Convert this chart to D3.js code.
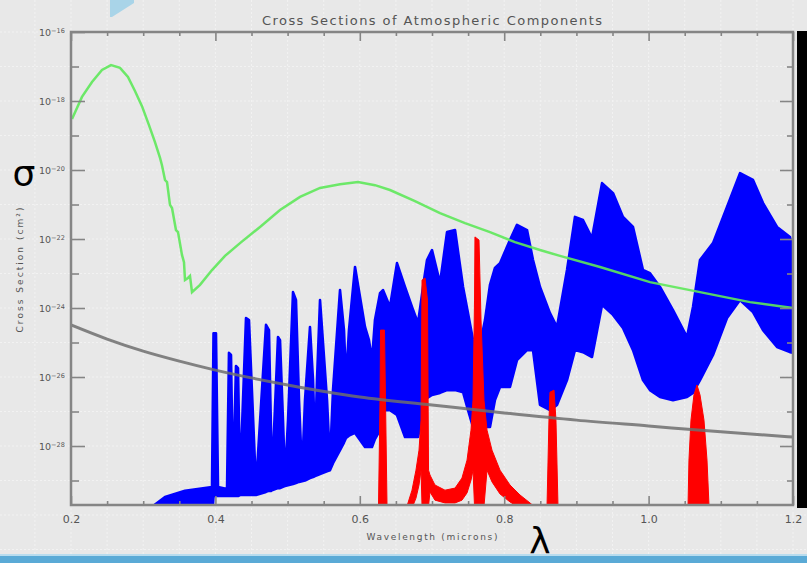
<!DOCTYPE html>
<html>
<head>
<meta charset="utf-8">
<script src="https://cdn.jsdelivr.net/npm/d3@7"></script>
<style>
  html, body { margin: 0; padding: 0; background: #e8e8e8; }
  svg { display: block; }
</style>
</head>
<body>
<div id="chart"></div>
<script>
// Tick labels
const waveMajor = [0.2, 0.4, 0.6, 0.8, 1.0, 1.2];
const waveMinor = [0.25, 0.3, 0.35, 0.45, 0.5, 0.55, 0.65, 0.7, 0.75, 0.85, 0.9, 0.95, 1.05, 1.1, 1.15];
const logMajor = [-16, -18, -20, -22, -24, -26, -28];
const logMinor = [-17, -19, -21, -23, -25, -27, -29];

// Ozone (green): wavelength (microns), log10 cross section (cm^2)
const o3Wave = [0.2014, 0.2152, 0.2291, 0.2429, 0.2554, 0.2679, 0.2789, 0.2886, 0.2983, 0.3080, 0.3163, 0.3233,
  0.3260, 0.3302, 0.3330, 0.3371, 0.3399, 0.3454, 0.3482, 0.3537, 0.3565, 0.3579, 0.3620, 0.3648, 0.3676,
  0.3787, 0.3953, 0.4133, 0.4341, 0.4618, 0.4895, 0.5172, 0.5449, 0.5726, 0.5975, 0.6210, 0.6418, 0.6764,
  0.7111, 0.7457, 0.7803, 0.8149, 0.8496, 0.8773, 0.9327, 1.0019, 1.0712, 1.1404, 1.2000];
const o3Log = [-18.52, -17.88, -17.45, -17.10, -16.96, -17.04, -17.30, -17.71, -18.15, -18.70, -19.19, -19.65,
  -19.86, -20.29, -20.35, -21.01, -21.10, -21.74, -21.80, -22.46, -22.67, -23.19, -23.13, -23.07, -23.54,
  -23.33, -22.90, -22.49, -22.12, -21.65, -21.16, -20.78, -20.52, -20.41, -20.35, -20.44, -20.58, -20.90,
  -21.25, -21.54, -21.80, -22.09, -22.32, -22.49, -22.81, -23.25, -23.54, -23.83, -24.00];

// Rayleigh scattering (gray)
const rayWave = [0.2, 0.25, 0.3, 0.35, 0.4, 0.5, 0.6, 0.7, 0.8, 0.9, 1.0, 1.1, 1.2];
const rayLog = [-24.49, -24.90, -25.25, -25.54, -25.80, -26.23, -26.58, -26.81, -27.04, -27.25, -27.42, -27.59, -27.74];

// Water vapour (blue): wavelength, upper envelope, lower envelope (log10 cm^2)
const h2oWave = [0.3136, 0.3302, 0.3579, 0.3953, 0.3974, 0.4008, 0.4036, 0.4161, 0.4188, 0.4216, 0.4244, 0.4285,
  0.4313, 0.4341, 0.4424, 0.4465, 0.4562, 0.4701, 0.4742, 0.4770, 0.4784, 0.4812, 0.4867, 0.4895, 0.4936,
  0.4964, 0.5006, 0.5075, 0.5116, 0.5158, 0.5200, 0.5241, 0.5310, 0.5352, 0.5380, 0.5407, 0.5449, 0.5546,
  0.5587, 0.5629, 0.5726, 0.5781, 0.5809, 0.5850, 0.5934, 0.6072, 0.6127, 0.6169, 0.6210, 0.6280, 0.6321,
  0.6418, 0.6515, 0.6626, 0.6723, 0.6806, 0.6889, 0.6931, 0.7000, 0.7111, 0.7208, 0.7319, 0.7430, 0.7499,
  0.7568, 0.7637, 0.7734, 0.7803, 0.7872, 0.7942, 0.8080, 0.8177, 0.8316, 0.8399, 0.8496, 0.8634, 0.8731,
  0.8870, 0.8980, 0.9091, 0.9216, 0.9355, 0.9507, 0.9645, 0.9784, 0.9922, 1.0019, 1.0158, 1.0338, 1.0532,
  1.0615, 1.0712, 1.0892, 1.1086, 1.1266, 1.1446, 1.1585, 1.1779, 1.1958, 1.2000];
const h2oUpper = [-29.74, -29.48, -29.30, -29.19, -24.73, -24.73, -29.19, -29.25, -25.30, -25.36, -29.22, -25.68,
  -25.74, -29.04, -24.29, -24.35, -29.19, -24.49, -24.64, -27.54, -28.99, -27.54, -24.84, -24.93, -27.25,
  -28.93, -27.25, -23.54, -23.77, -26.67, -28.78, -26.67, -24.55, -26.09, -28.03, -26.09, -23.77, -26.67,
  -28.46, -26.38, -23.48, -24.64, -26.09, -24.64, -22.81, -24.55, -24.93, -25.51, -24.35, -23.57, -23.48,
  -23.97, -22.70, -23.39, -23.97, -24.44, -23.19, -22.61, -22.32, -23.28, -21.80, -21.74, -23.39, -24.15,
  -24.93, -25.36, -24.35, -23.33, -22.84, -22.70, -22.03, -21.59, -21.74, -22.61, -23.39, -24.15, -24.55,
  -22.90, -21.36, -21.45, -21.97, -20.38, -20.67, -21.36, -21.65, -22.90, -22.99, -23.39, -24.06, -24.84,
  -23.97, -22.61, -22.12, -21.07, -20.09, -20.29, -20.96, -21.65, -21.94, -22.32];
const h2oLower = [-30.15, -30.15, -30.15, -30.15, -29.45, -29.45, -29.45, -29.45, -29.45, -29.45, -29.45, -29.45,
  -29.45, -29.42, -29.42, -29.42, -29.42, -29.33, -29.30, -29.30, -29.28, -29.26, -29.22, -29.22, -29.18,
  -29.16, -29.14, -29.10, -29.07, -29.04, -29.02, -29.00, -28.93, -28.90, -28.87, -28.85, -28.81, -28.73,
  -28.70, -28.50, -28.12, -27.90, -27.77, -27.70, -27.62, -28.03, -28.03, -28.03, -27.80, -27.54, -26.96,
  -26.96, -27.10, -27.74, -27.74, -27.74, -26.96, -26.61, -26.52, -26.46, -26.38, -26.38, -26.44, -26.96,
  -27.45, -27.45, -27.45, -27.45, -26.67, -26.29, -26.29, -25.51, -25.22, -25.22, -26.81, -26.96, -26.81,
  -26.09, -25.22, -25.28, -25.42, -23.91, -24.20, -24.58, -25.22, -26.09, -26.38, -26.58, -26.67, -26.58,
  -26.46, -26.09, -25.36, -24.29, -23.77, -24.12, -24.64, -25.13, -25.28, -25.30];

// Oxygen bands (red): [wavelength, upper, lower] (log10 cm^2)
const o2BandA = [[0.6259, -29.74, -30.15], [0.6280, -26.67, -30.15], [0.6287, -24.64, -30.15],
  [0.6342, -24.64, -30.15], [0.6356, -26.67, -30.15], [0.6377, -29.74, -30.15]];
const o2BandB = [[0.6654, -29.74, -30.15], [0.6723, -29.28, -29.80], [0.6778, -28.70, -29.51],
  [0.6820, -28.12, -29.13], [0.6848, -27.25, -28.70], [0.6862, -23.19, -29.74], [0.6903, -23.13, -29.74],
  [0.6938, -23.77, -29.74], [0.6952, -28.70, -29.74], [0.6972, -28.84, -29.33], [0.7041, -29.13, -29.57],
  [0.7180, -29.28, -29.65], [0.7319, -29.22, -29.65], [0.7415, -28.93, -29.57], [0.7485, -28.41, -29.36],
  [0.7540, -27.54, -28.99], [0.7568, -26.67, -28.70], [0.7589, -23.77, -29.74], [0.7595, -21.94, -29.74],
  [0.7651, -22.03, -29.74], [0.7679, -24.35, -29.74], [0.7720, -26.67, -29.74], [0.7762, -27.54, -28.70],
  [0.7831, -28.12, -29.04], [0.7942, -28.70, -29.39], [0.8080, -29.13, -29.62], [0.8219, -29.42, -29.80],
  [0.8357, -29.65, -29.97], [0.8426, -29.77, -30.15]];
const o2BandC = [[0.8593, -29.74, -30.15], [0.8620, -27.25, -30.15], [0.8634, -26.44, -30.15],
  [0.8690, -26.38, -30.15], [0.8717, -27.25, -30.15], [0.8745, -29.74, -30.15]];
const o2BandD = [[1.0546, -29.74, -30.15], [1.0559, -28.41, -30.15], [1.0587, -27.25, -30.15],
  [1.0628, -26.52, -30.15], [1.0670, -26.23, -30.15], [1.0712, -26.52, -30.15], [1.0767, -27.25, -30.15],
  [1.0809, -28.41, -30.15], [1.0837, -29.74, -30.15]];

const W = 807, H = 563;
const plot = { left: 71, right: 793, top: 32, bottom: 505 };

const svg = d3.select("#chart").append("svg")
  .attr("width", W)
  .attr("height", H);

// slide background
svg.append("rect").attr("width", W).attr("height", H).attr("fill", "#e8e8e8");

const x = d3.scaleLinear().domain([0.2, 1.2]).range([plot.left, plot.right]);
const y = d3.scaleLinear().domain([-29.71, -16]).range([plot.bottom, plot.top]);

// faint background texture grid
const bgGrid = svg.append("g").attr("stroke", "#f2f2f2").attr("stroke-width", 1).attr("stroke-dasharray", "2,2");
d3.range(-0.05, 1.3, 0.05).forEach(v => {
  bgGrid.append("line").attr("x1", x(v)).attr("x2", x(v)).attr("y1", 0).attr("y2", H);
});
d3.range(-31, -14, 1).forEach(v => {
  bgGrid.append("line").attr("x1", 0).attr("x2", W).attr("y1", y(v)).attr("y2", y(v));
});

// decorations from the slide
svg.append("polygon").attr("points", "110,0 134,0 134,3 112,17 110,17").attr("fill", "#a9d4e8");
svg.append("rect").attr("x", 797).attr("y", 31).attr("width", 10).attr("height", 477).attr("fill", "#000");
svg.append("rect").attr("x", 0).attr("y", 556).attr("width", W).attr("height", 7).attr("fill", "#5aaad6");
svg.append("rect").attr("x", 0).attr("y", 554).attr("width", W).attr("height", 2).attr("fill", "#b8dcee");

svg.append("clipPath").attr("id", "clip")
  .append("rect")
  .attr("x", plot.left).attr("y", plot.top)
  .attr("width", plot.right - plot.left).attr("height", plot.bottom - plot.top);

const g = svg.append("g").attr("clip-path", "url(#clip)");

// water vapour
const h2oRows = h2oWave.map((w, i) => ({ w: w, hi: h2oUpper[i], lo: h2oLower[i] }));
g.append("path")
  .datum(h2oRows)
  .attr("fill", "#0000ff")
  .attr("stroke", "#0000ff")
  .attr("stroke-width", 2.6)
  .attr("stroke-linejoin", "round")
  .attr("d", d3.area().x(d => x(d.w)).y0(d => y(d.lo)).y1(d => y(d.hi)));

// oxygen
const bandArea = d3.area().x(d => x(d[0])).y0(d => y(d[2])).y1(d => y(d[1]));
g.selectAll(".o2")
  .data([o2BandA, o2BandB, o2BandC, o2BandD])
  .enter()
  .append("path")
  .attr("class", "o2")
  .attr("fill", "#ff0000")
  .attr("stroke", "#ff0000")
  .attr("stroke-width", 1)
  .attr("d", d => bandArea(d));

// rayleigh
g.append("path")
  .datum(rayWave.map((w, i) => [w, rayLog[i]]))
  .attr("fill", "none")
  .attr("stroke", "#6e6e6e")
  .attr("stroke-opacity", 0.85)
  .attr("stroke-width", 3)
  .attr("d", d3.line().x(d => x(d[0])).y(d => y(d[1])).curve(d3.curveMonotoneX));

// ozone
g.append("path")
  .datum(o3Wave.map((w, i) => [w, o3Log[i]]))
  .attr("fill", "none")
  .attr("stroke", "#5ee85a")
  .attr("stroke-width", 2.5)
  .attr("stroke-opacity", 0.9)
  .attr("d", d3.line().x(d => x(d[0])).y(d => y(d[1])));

// axes
const axisColor = "#858585";
function styleAxis(sel) {
  sel.select(".domain").remove();
  sel.selectAll(".tick line").attr("stroke", axisColor).attr("stroke-width", 1.6);
  sel.selectAll("text").attr("fill", "#555").attr("font-family", "DejaVu Sans, sans-serif");
}

svg.append("g")
  .attr("transform", `translate(0,${plot.bottom})`)
  .call(d3.axisBottom(x).tickValues(waveMajor).tickSize(-9).tickPadding(10).tickFormat(d3.format(".1f")))
  .call(styleAxis)
  .selectAll("text").attr("font-size", 11);

svg.append("g")
  .attr("transform", `translate(0,${plot.bottom})`)
  .call(d3.axisBottom(x).tickValues(waveMinor).tickSize(-4).tickFormat(""))
  .call(styleAxis);

svg.append("g")
  .attr("transform", `translate(0,${plot.top})`)
  .call(d3.axisTop(x).tickValues(waveMajor).tickSize(-9).tickFormat(""))
  .call(styleAxis);

svg.append("g")
  .attr("transform", `translate(0,${plot.top})`)
  .call(d3.axisTop(x).tickValues(waveMinor).tickSize(-4).tickFormat(""))
  .call(styleAxis);

const leftMajor = svg.append("g")
  .attr("transform", `translate(${plot.left},0)`)
  .call(d3.axisLeft(y).tickValues(logMajor).tickSize(-14).tickPadding(18).tickFormat(() => "10"))
  .call(styleAxis);
leftMajor.selectAll("text")
  .attr("font-size", 9.5)
  .append("tspan")
  .attr("dy", "-0.35em")
  .attr("font-size", 6.5)
  .text(d => String(d).replace("-", "\u2212"));
leftMajor.selectAll("text").attr("dx", 0).attr("x", -32).attr("text-anchor", "start");

svg.append("g")
  .attr("transform", `translate(${plot.left},0)`)
  .call(d3.axisLeft(y).tickValues(logMinor).tickSize(-8).tickFormat(""))
  .call(styleAxis);

svg.append("g")
  .attr("transform", `translate(${plot.right},0)`)
  .call(d3.axisRight(y).tickValues(logMajor).tickSize(-13).tickFormat(""))
  .call(styleAxis);

svg.append("g")
  .attr("transform", `translate(${plot.right},0)`)
  .call(d3.axisRight(y).tickValues(logMinor).tickSize(-6).tickFormat(""))
  .call(styleAxis);

// frame
svg.append("rect")
  .attr("x", plot.left).attr("y", plot.top)
  .attr("width", plot.right - plot.left).attr("height", plot.bottom - plot.top)
  .attr("fill", "none")
  .attr("stroke", axisColor)
  .attr("stroke-width", 2.5);

// titles
svg.append("text")
  .attr("x", 432).attr("y", 25)
  .attr("text-anchor", "middle")
  .attr("font-family", "DejaVu Sans, sans-serif")
  .attr("font-size", 13)
  .attr("textLength", 340)
  .attr("fill", "#555")
  .text("Cross Sections of Atmospheric Components");

svg.append("text")
  .attr("x", 432).attr("y", 540)
  .attr("text-anchor", "middle")
  .attr("font-family", "DejaVu Sans, sans-serif")
  .attr("font-size", 9)
  .attr("textLength", 131)
  .attr("fill", "#555")
  .text("Wavelength (microns)");

svg.append("text")
  .attr("transform", "translate(23,270) rotate(-90)")
  .attr("text-anchor", "middle")
  .attr("font-family", "DejaVu Sans, sans-serif")
  .attr("font-size", 9)
  .attr("textLength", 125)
  .attr("fill", "#555")
  .text("Cross Section (cm\u00b2)");

svg.append("text")
  .attr("x", 24).attr("y", 186)
  .attr("text-anchor", "middle")
  .attr("font-family", "DejaVu Sans, sans-serif")
  .attr("font-size", 36)
  .attr("fill", "#000")
  .text("\u03c3");

svg.append("text")
  .attr("x", 540).attr("y", 553)
  .attr("text-anchor", "middle")
  .attr("font-family", "DejaVu Sans, sans-serif")
  .attr("font-size", 36)
  .attr("fill", "#000")
  .text("\u03bb");
</script>
</body>
</html>
